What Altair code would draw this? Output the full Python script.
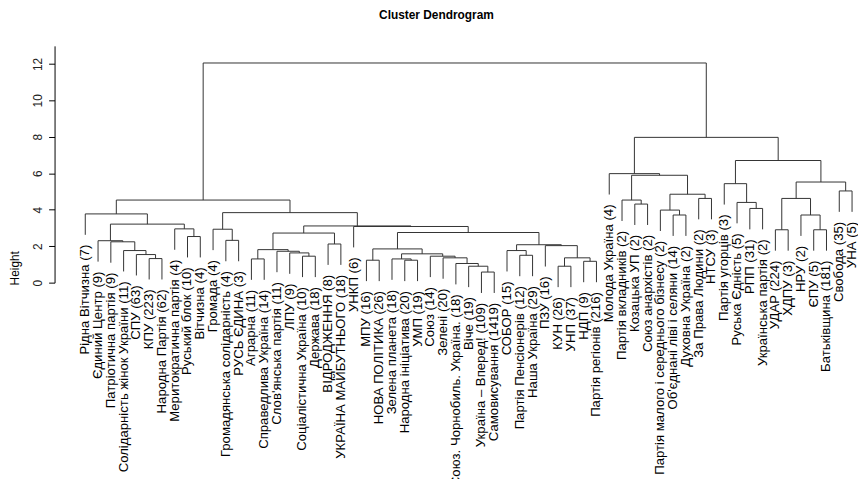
import altair as alt
import pandas as pd

# Leaf labels in dendrogram order
labels = ["Рідна Вітчизна (7)", "Єдиний Центр (9)", "Патріотична партія (9)",
          "Солідарність жінок України (11)", "СПУ (63)", "КПУ (223)", "Народна Партія (62)",
          "Меритократична партія (4)", "Руський блок (10)", "Вітчизна (4)", "Громада (4)",
          "Громадянська солідарність (4)", "РУСЬ ЄДИНА (3)", "Аграрна (11)",
          "Справедлива Україна (14)", "Слов'янська партія (11)", "ЛПУ (9)",
          "Соціалістична Україна (10)", "Держава (18)", "ВІДРОДЖЕННЯ (8)",
          "УКРАЇНА МАЙБУТНЬОГО (18)", "УНКП (6)", "МПУ (16)", "НОВА ПОЛІТИКА (26)",
          "Зелена планета (18)", "Народна ініціатива (20)", "УМП (19)", "Союз (14)",
          "Зелені (20)", "Союз. Чорнобиль. Україна. (18)", "Віче (19)",
          "Україна – Вперед! (109)", "Самовисування (1419)", "СОБОР (15)",
          "Партія Пенсіонерів (12)", "Наша Україна (29)", "ПЗУ (16)", "КУН (26)",
          "УНП (37)", "НДП (9)", "Партія регіонів (216)", "Молода Україна (4)",
          "Партія вкладників (2)", "Козацька УП (2)", "Союз анархістів (2)",
          "Партія малого і середнього бізнесу (2)", "Об'єднані ліві і селяни (14)",
          "Духовна Україна (2)", "За Права Людини (2)", "НТСУ (3)", "Партія угорців (3)",
          "Руська Єдність (5)", "РПП (31)", "Українська партія (2)", "УДАР (224)",
          "ХДПУ (3)", "НРУ (2)", "ЄПУ (5)", "Батьківщина (181)", "Свобода (35)", "УНА (5)"]

# hclust-style merge table: negative = leaf number, positive = earlier merge number
merge_a = [-6, -5, -4, -3, -2, -9, -8, 5, -1, -12, -11, -14, -18, -17, -16, 12, -20, 16,
           -23, -26, -25, -32, -31, -30, -29, -28, 21, 19, -35, -34, -38, -40, 31, -37, 30,
           28, -22, 18, 11, 9, -44, -43, -47, -46, -49, 44, 42, -42, -53, -52, -51, -55,
           -58, -57, 52, -60, 55, 51, 48, 40]
merge_b = [-7, 1, 2, 3, 4, -10, 6, 7, 8, -13, 10, -15, -19, 13, 14, 15, -21, 17, -24, -27,
           20, -33, 22, 23, 24, 25, 26, 27, -36, 29, -39, -41, 32, 33, 34, 35, 36, 37, 38,
           39, -45, 41, -48, 43, -50, 45, 46, 47, -54, 49, 50, -56, -59, 53, 54, -61, 56,
           57, 58, 59]
heights = [1.32, 1.54, 1.76, 2.24, 2.30, 2.53, 2.95, 3.21, 3.77, 2.32,
           2.93, 1.30, 1.45, 1.63, 1.72, 1.81, 2.12, 2.72, 1.23, 1.23,
           1.30, 0.58, 0.90, 1.05, 1.36, 1.45, 1.58, 1.85, 1.50, 1.76,
           0.90, 1.17, 1.36, 2.03, 2.08, 2.75, 3.08, 3.11, 3.84, 4.53,
           4.31, 4.53, 3.71, 3.98, 4.62, 4.85, 5.89, 5.98, 4.07, 4.40,
           5.43, 2.90, 2.90, 3.71, 4.62, 5.03, 5.52, 6.70, 7.97, 12.05]

y_ticks = [0, 2, 4, 6, 8, 10, 12]

# ---- dendrogram layout (as in plot.hclust, hang = 0.1) ----
hang = 0.1 * (max(heights) - min(heights))
merge_x = []
segs = []
leaf_rows = []
for k, h in enumerate(heights):
    xs = []
    for ref in (merge_a[k], merge_b[k]):
        if ref < 0:
            cx = -ref - 1
            ctop = h - hang
            leaf_rows.append({"x": cx, "y": ctop, "label": labels[cx]})
        else:
            cx = merge_x[ref - 1]
            ctop = heights[ref - 1]
        xs.append(cx)
        segs.append({"x": cx, "x2": cx, "y": ctop, "y2": h})
    segs.append({"x": xs[0], "x2": xs[1], "y": h, "y2": h})
    merge_x.append(sum(xs) / 2)

seg_df = pd.DataFrame(segs)
leaf_df = pd.DataFrame(leaf_rows)

FONT = "Liberation Sans"
xscale = alt.Scale(domain=[-2.403, 60.465], nice=False, zero=False)
yscale = alt.Scale(domain=[0, 12.99], nice=False, zero=False)
yaxis = alt.Axis(title="Height", values=y_ticks, grid=False,
                 labelOverlap=False, labelBound=False, labelFlush=False,
                 domainColor="#000000", tickColor="#000000", tickSize=6,
                 labelAngle=270, labelAlign="center", labelBaseline="bottom",
                 labelPadding=4, labelFont=FONT, labelFontSize=12,
                 labelColor="#222222", titleFont=FONT, titleFontSize=12,
                 titleFontWeight="normal", titleColor="#000000",
                 titleAngle=270, titleAlign="center", titleBaseline="middle",
                 titleX=-40, titleY=224)

lines = alt.Chart(seg_df).mark_rule(color="#333333", strokeWidth=1).encode(
    x=alt.X("x:Q", scale=xscale, axis=None),
    x2="x2:Q",
    y=alt.Y("y:Q", scale=yscale, axis=yaxis),
    y2="y2:Q",
)

texts = alt.Chart(leaf_df).mark_text(
    angle=270, align="right", baseline="middle", dx=-10,
    font=FONT, fontSize=13.3, color="#000000"
).encode(
    x=alt.X("x:Q", scale=xscale, axis=None),
    y=alt.Y("y:Q", scale=yscale, axis=yaxis),
    text="label:N",
)

chart = alt.layer(lines, texts).properties(
    width=811, height=239,
    title=alt.TitleParams("Cluster Dendrogram", anchor="middle", font=FONT,
                          fontSize=12, fontWeight="bold", color="#000000",
                          offset=24, dx=-20),
    padding={"left": 47, "top": 36, "right": 0, "bottom": 196},
    autosize=alt.AutoSizeParams(type="none"),
).configure_view(stroke=None)

chart.save("out.html", embed_options={"renderer": "svg", "actions": False})
